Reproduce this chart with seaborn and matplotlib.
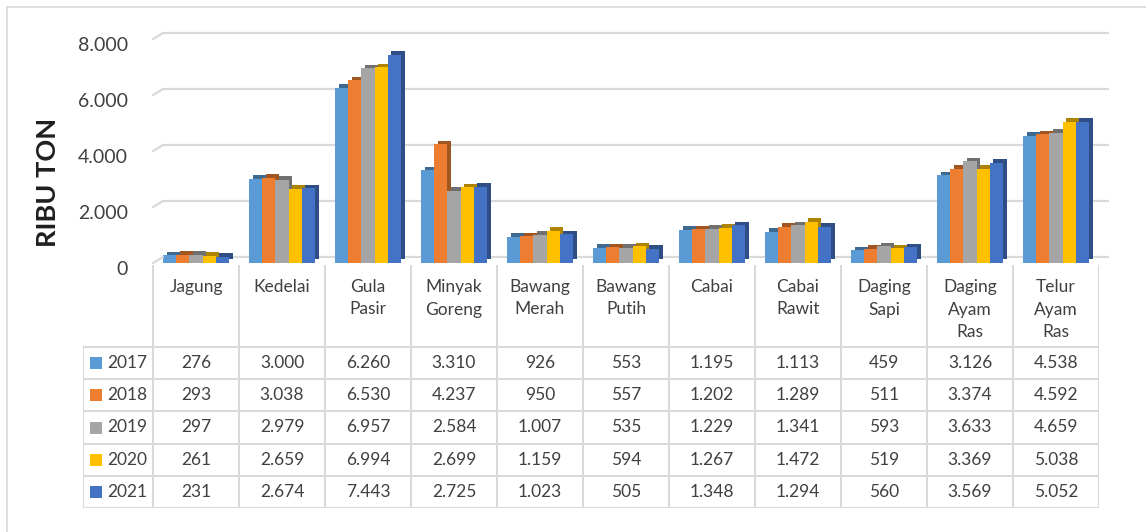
import pandas as pd
import matplotlib
matplotlib.use("Agg")
import matplotlib.pyplot as plt
import matplotlib.patheffects as pe
from matplotlib.lines import Line2D
from matplotlib.patches import Rectangle
from matplotlib.ticker import FuncFormatter
from matplotlib.transforms import IdentityTransform, ScaledTranslation, offset_copy
import seaborn as sns

# =========================
# data
# =========================
komoditas = ["Jagung", "Kedelai", "Gula Pasir", "Minyak Goreng", "Bawang Merah",
             "Bawang Putih", "Cabai", "Cabai Rawit", "Daging Sapi",
             "Daging Ayam Ras", "Telur Ayam Ras"]
tahun = ["2017", "2018", "2019", "2020", "2021"]

v2017 = [276, 3000, 6260, 3310, 926, 553, 1195, 1113, 459, 3126, 4538]
v2018 = [293, 3038, 6530, 4237, 950, 557, 1202, 1289, 511, 3374, 4592]
v2019 = [297, 2979, 6957, 2584, 1007, 535, 1229, 1341, 593, 3633, 4659]
v2020 = [261, 2659, 6994, 2699, 1159, 594, 1267, 1472, 519, 3369, 5038]
v2021 = [231, 2674, 7443, 2725, 1023, 505, 1348, 1294, 560, 3569, 5052]
nilai = [v2017, v2018, v2019, v2020, v2021]

y_ticks = [0, 2000, 4000, 6000, 8000]
warna = ["#5B9BD5", "#ED7D31", "#A5A5A5", "#FFC000", "#4472C4"]

df = pd.DataFrame([
    {"komoditas": k, "tahun": t, "ribu_ton": nilai[i][j]}
    for i, t in enumerate(tahun) for j, k in enumerate(komoditas)
])


def fmt_id(v):
    # 1.234 style thousands separator
    return f"{int(round(v)):,}".replace(",", ".")


# =========================
# style
# =========================
sns.set_style("white")
plt.rcParams["font.family"] = ["Lato", "DejaVu Sans"]
TEKS = "#404040"
GARIS = "#D9D9D9"

W, H = 1146, 532
fig = plt.figure(figsize=(W / 100, H / 100), dpi=100)
fig.patch.set_facecolor("white")

# chart frame (only top/left visible in crop)
fig.add_artist(Line2D([7 / W, 7 / W], [0, 1 - 7 / H], transform=fig.transFigure, color=GARIS, lw=1.2))
fig.add_artist(Line2D([7 / W, 1], [1 - 7 / H, 1 - 7 / H], transform=fig.transFigure, color=GARIS, lw=1.2))

# =========================
# bars
# =========================
ax = fig.add_axes([153 / W, (H - 263) / H, (1099 - 153) / W, (263 - 39) / H])
sns.barplot(data=df, x="komoditas", y="ribu_ton", hue="tahun", order=komoditas,
            hue_order=tahun, palette=warna, width=0.77, saturation=1,
            errorbar=None, legend=False, ax=ax, zorder=3,
            linewidth=0, edgecolor="none")

ax.set_xlim(-0.5, len(komoditas) - 0.5)
ax.set_ylim(0, 8000)
ax.set_yticks(y_ticks)
ax.yaxis.set_major_formatter(FuncFormatter(lambda v, _: fmt_id(v)))
ax.set_xticks([])
ax.set_xlabel("")
ax.set_ylabel("")
ax.tick_params(axis="y", length=0, pad=18, labelsize=14, labelcolor=TEKS)
for s in ax.spines.values():
    s.set_visible(False)
ax.patch.set_alpha(0)

# labels sit a little below the front level, like Excel
turun = ScaledTranslation(0, -5 / 100, fig.dpi_scale_trans)
for lbl in ax.get_yticklabels():
    lbl.set_transform(lbl.get_transform() + turun)

# fake 3D depth on the bars
for p in ax.patches:
    r, g, b, _ = p.get_facecolor()
    gelap = (r * 0.68, g * 0.68, b * 0.68)
    p.set_linewidth(0)
    p.set_path_effects([pe.SimplePatchShadow(offset=(2.6, 2.6), shadow_rgbFace=gelap, alpha=1.0),
                        pe.Normal()])

# back wall gridlines (shifted up/right) + small diagonal at the left
belakang = offset_copy(ax.transData, fig=fig, x=10, y=6, units="dots")
ax.hlines(y_ticks, -0.5, len(komoditas) - 0.5, transform=belakang,
          color=GARIS, lw=1.6, zorder=0, clip_on=False)
for v in y_ticks:
    x0, y0 = ax.transData.transform((-0.5, v))
    fig.add_artist(Line2D([x0, x0 + 10], [y0, y0 + 6], transform=IdentityTransform(),
                          color=GARIS, lw=1.6))

fig.text(48 / W, 1 - 182 / H, "RIBU TON", rotation=90, ha="center", va="center",
         fontsize=19.5, fontweight="bold", color="#1F1F1F")

# =========================
# data table
# =========================
lebar_label = 70 / 86
tab = fig.add_axes([83 / W, (H - 508) / H, (1099 - 83) / W, (508 - 265) / H])
tab.set_xlim(-0.5 - lebar_label, len(komoditas) - 0.5)
tab.set_ylim(243, 0)
tab.axis("off")

x_kiri = -0.5 - lebar_label
x_kanan = len(komoditas) - 0.5
batas_baris = [82 + 32.2 * i for i in range(len(tahun) + 1)]

for yb in batas_baris:
    tab.plot([x_kiri, x_kanan], [yb, yb], color=GARIS, lw=1.5, solid_capstyle="butt")
for k in range(len(komoditas) + 1):
    tab.plot([k - 0.5, k - 0.5], [0, batas_baris[-1]], color=GARIS, lw=1.5)
tab.plot([x_kiri, x_kiri], [batas_baris[0], batas_baris[-1]], color=GARIS, lw=1.5)

for j, k in enumerate(komoditas):
    tab.text(j, 14, k.replace(" ", "\n"), ha="center", va="top", fontsize=12.5,
             color=TEKS, linespacing=1.5)

for i, t in enumerate(tahun):
    yc = (batas_baris[i] + batas_baris[i + 1]) / 2
    tab.add_patch(Rectangle((x_kiri + 7 / 86, yc - 6), 12 / 86, 12, color=warna[i], lw=0))
    tab.text(x_kiri + 24 / 86, yc, t, ha="left", va="center", fontsize=12.5, color=TEKS)
    for j in range(len(komoditas)):
        tab.text(j, yc, fmt_id(nilai[i][j]), ha="center", va="center",
                 fontsize=12.5, color=TEKS)

fig.savefig("out.png", dpi=100, facecolor="white")
